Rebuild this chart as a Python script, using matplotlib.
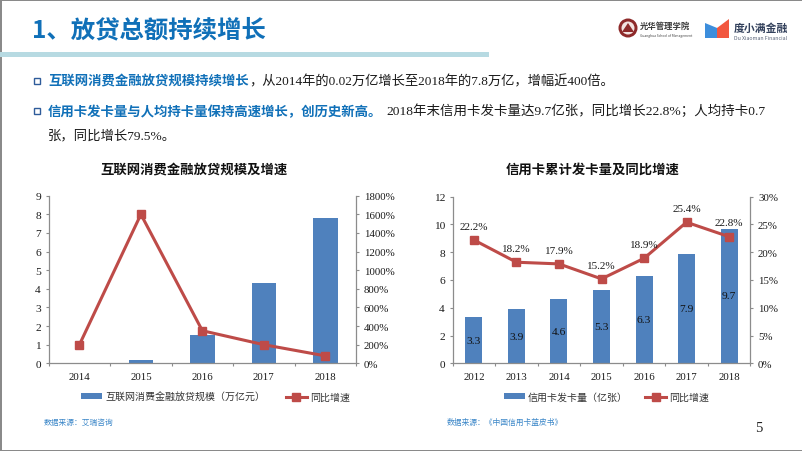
import matplotlib
matplotlib.use("Agg")
import matplotlib.pyplot as plt
from matplotlib.patches import Polygon, Circle, Rectangle
from matplotlib.ticker import FuncFormatter

MIX = ['Liberation Serif', 'Noto Sans CJK SC']
CJK = ['Noto Sans CJK SC', 'DejaVu Sans']
plt.rcParams['font.family'] = MIX
plt.rcParams['axes.unicode_minus'] = False

# ---- data ----
years_left = ['2014', '2015', '2016', '2017', '2018']
loan_scale = [0.02, 0.2, 1.5, 4.3, 7.8]
loan_growth = [200, 1600, 350, 200, 80]

years_right = ['2012', '2013', '2014', '2015', '2016', '2017', '2018']
card_count = [3.3, 3.9, 4.6, 5.3, 6.3, 7.9, 9.7]
card_growth = [22.2, 18.2, 17.9, 15.2, 18.9, 25.4, 22.8]

left_bar_label = '互联网消费金融放贷规模（万亿元）'
right_bar_label = '信用卡发卡量（亿张）'
line_label = '同比增速'

W, H = 802, 452
BAR = '#4F81BD'
LINE = '#BE4B48'
AXC = '#8C8C8C'
TXT = '#1A1A1A'
BLUE = '#1070B8'

fig = plt.figure(figsize=(W / 100, H / 100), dpi=100, facecolor='white')

# page overlay in pixel coordinates
pg = fig.add_axes([0, 0, 1, 1])
pg.set_xlim(0, W)
pg.set_ylim(H, 0)
pg.axis('off')

def rect(x0, y0, x1, y1, c):
    pg.add_patch(Rectangle((x0, y0), x1 - x0, y1 - y0, fc=c, ec='none'))

def txt(x, y, s, size, color=TXT, weight='normal', ha='left', family=MIX):
    pg.text(x, y, s, fontsize=size, color=color, fontweight=weight, ha=ha,
            va='center', family=family)

rect(0, 0, W, 1.5, '#8A8A8A')
rect(0, 0, 1.5, H, '#8A8A8A')
rect(0, 450.5, W, H, '#8A8A8A')
rect(0, 52.7, 489, 57.5, '#B7DAE2')

txt(32, 30.5, '1、放贷总额持续增长', 17.6, BLUE, 'bold', family=CJK)

# bullets
for by in (81.7, 111.7):
    pg.add_patch(Rectangle((34, by - 3), 6, 6, fc='white', ec='#2F5C9A', lw=1))
txt(48, 81.7, '互联网消费金融放贷规模持续增长', 9.65, BLUE, 'bold', family=CJK)
txt(249, 81.7, '，从2014年的0.02万亿增长至2018年的7.8万亿，增幅近400倍。', 9.55)
txt(48, 111.7, '信用卡发卡量与人均持卡量保持高速增长，创历史新高。', 9.65, BLUE, 'bold', family=CJK)
txt(386, 111.7, '2018年末信用卡发卡量达9.7亿张，同比增长22.8%；人均持卡0.7', 9.7)
txt(48, 136, '张，同比增长79.5%。', 9.6)

# logos
pg.add_patch(Circle((628, 29), 9.5, fc='#8E2A2A', ec='none'))
pg.add_patch(Circle((628, 29), 6.5, fc='#F3E3E0', ec='none'))
pg.add_patch(Polygon([(622, 33), (628, 24), (634, 33)], fc='#8E2A2A', ec='none'))
txt(640, 26.5, '光华管理学院', 6.0, '#3A3A3A', 'bold', family=CJK)
txt(640, 35.5, 'Guanghua School of Management', 2.4, '#444444', family=CJK)
pg.add_patch(Polygon([(705, 24), (722, 31), (722, 39), (705, 39)], fc='#3D8EDC', ec='none'))
pg.add_patch(Polygon([(717, 29), (729, 20), (729, 39), (717, 39)], fc='#F2573F', ec='none'))
txt(734, 29, '度小满金融', 7.8, '#33415C', 'bold', family=CJK)
txt(734, 38, 'Du Xiaoman Financial', 3.8, '#5A6478', family=CJK)

# chart titles and notes
txt(193.7, 169.3, '互联网消费金融放贷规模及增速', 9.6, '#111111', 'bold', 'center', CJK)
txt(593, 169.3, '信用卡累计发卡量及同比增速', 9.6, '#111111', 'bold', 'center', CJK)
txt(44, 422.7, '数据来源：艾瑞咨询', 5.55, '#3A86C8', family=CJK)
txt(446.7, 422.7, '数据来源：《中国信用卡蓝皮书》', 5.6, '#3A86C8', family=CJK)
txt(758.7, 429, '5', 10.5, '#222222', ha='center')


def axes_px(x0, y0, x1, y1):
    return fig.add_axes([x0 / W, 1 - y1 / H, (x1 - x0) / W, (y1 - y0) / H])


def combo(box, cats, bars, line, ymax, ystep, rmax, rstep, bar_label, legend_xy, col_gap):
    ax = axes_px(*box)
    ax.patch.set_alpha(0)
    xs = list(range(len(cats)))
    b = ax.bar(xs, bars, width=0.4, color=BAR, label=bar_label, zorder=2)
    ax.set_xlim(-0.5, len(cats) - 0.5)
    ax.set_ylim(0, ymax)
    ax.set_yticks(list(range(0, ymax + 1, ystep)))
    ax.set_xticks([i - 0.5 for i in range(len(cats) + 1)])
    ax.set_xticklabels([])
    ax.set_xticks(xs, minor=True)
    ax.set_xticklabels(cats, minor=True)
    ax.tick_params(axis='x', which='major', length=2.5, width=0.8, color=AXC)
    ax.tick_params(axis='x', which='minor', length=0, pad=6, labelsize=7.8, labelcolor=TXT)
    ax.tick_params(axis='y', length=2.5, width=0.8, color=AXC, labelsize=8.2,
                   labelcolor=TXT, pad=3)
    ax2 = ax.twinx()
    l, = ax2.plot(xs, line, color=LINE, lw=2.2, marker='s', ms=6,
                  mfc=LINE, mec=LINE, label=line_label, zorder=3)
    ax2.set_ylim(0, rmax)
    ax2.set_yticks(list(range(0, rmax + 1, rstep)))
    ax2.yaxis.set_major_formatter(FuncFormatter(lambda v, _: f'{v:.0f}%'))
    ax2.tick_params(axis='y', length=2.5, width=0.8, color=AXC, labelsize=7.8,
                    labelcolor=TXT, pad=3)
    for a in (ax, ax2):
        a.spines['top'].set_visible(False)
        for s in ('left', 'right', 'bottom'):
            a.spines[s].set_color(AXC)
            a.spines[s].set_linewidth(0.9)
    ax.spines['right'].set_visible(False)
    ax2.spines['left'].set_visible(False)
    ax2.spines['bottom'].set_visible(False)
    fig.legend([b, l], [bar_label, line_label], ncol=2, loc='center',
               bbox_to_anchor=(legend_xy[0] / W, 1 - legend_xy[1] / H),
               frameon=False, prop={'family': CJK, 'size': 7.2},
               handlelength=2.1, handleheight=0.55, handletextpad=0.35,
               columnspacing=col_gap, borderpad=0, labelcolor='#333333')
    return ax, ax2, b


combo((48.7, 196.7, 356, 364.3), years_left, loan_scale, loan_growth,
      9, 1, 1800, 200, left_bar_label, (215.5, 398), 2.0)

ax, ax2, bars = combo((452.7, 197.7, 750.3, 364.3), years_right, card_count, card_growth,
                      12, 2, 30, 5, right_bar_label, (606.5, 398), 1.7)
ax.bar_label(bars, labels=[f'{v:.1f}' for v in card_count], label_type='center',
             fontsize=8.2, color='#111111', zorder=5)
for i, v in enumerate(card_growth):
    ax2.annotate(f'{v:.1f}%', (i, v), xytext=(0, 10), textcoords='offset points',
                 ha='center', va='center', fontsize=8, color=TXT, zorder=6)

fig.savefig('out.png', dpi=100, facecolor='white')
